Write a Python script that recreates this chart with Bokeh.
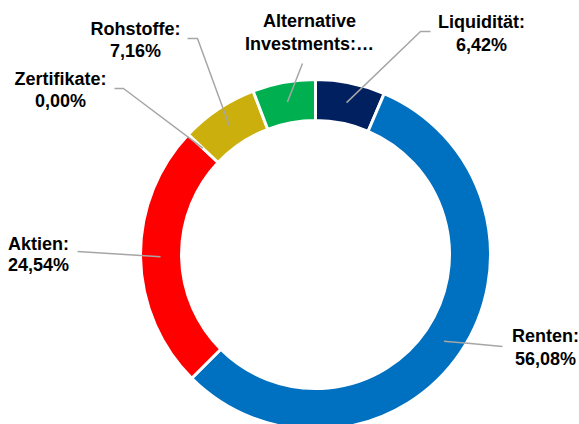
import math
from bokeh.plotting import figure
from bokeh.models import Range1d, ColumnDataSource
from bokeh.core.properties import value
from bokeh.embed import file_html
from bokeh.resources import INLINE

# ---- data ----
categories = ["Liquidität", "Renten", "Aktien", "Zertifikate", "Rohstoffe", "Alternative Investments"]
shares = [6.42, 56.08, 24.54, 0.00, 7.16, 5.80]
name_lines = ["Liquidität:", "Renten:", "Aktien:", "Zertifikate:", "Rohstoffe:", "Alternative"]
value_lines = ["6,42%", "56,08%", "24,54%", "0,00%", "7,16%", "Investments:…"]

# ---- styles / layout (screen pixels) ----
colors = ["#002060", "#0070C0", "#FF0000", "#7F7F7F", "#CBB00D", "#00B050"]
W, H = 579, 424
cx_s, cy_s = 315, 254
r_out, r_in, r_lead = 175, 134, 155
label_x = [481, 545, 38, 60, 135, 309]
label_y = [21, 335, 243, 78, 28, 20]
line_gap = [23, 23, 21, 22, 22, 23]
elbow1 = [(420, 31), (470, 343), (77, 251), (123, 88), (197, 38), (302, 63)]
elbow2 = [(430, 31), (502, 346), (77, 251), (114, 88), (187, 38), (302, 63)]


def X(sx):
    return sx


def Y(sy):
    return H - sy


total = sum(shares)
starts, ends, mids = [], [], []
acc = 0.0
for v in shares:
    a0 = math.pi / 2 - 2 * math.pi * acc / total
    acc += v
    a1 = math.pi / 2 - 2 * math.pi * acc / total
    starts.append(a0)
    ends.append(a1)
    mids.append((a0 + a1) / 2)

p = figure(width=W, height=H, x_range=Range1d(0, W), y_range=Range1d(0, H),
           output_backend="svg", toolbar_location=None, min_border=0)
p.axis.visible = False
p.grid.visible = False
p.outline_line_color = None
p.background_fill_color = "white"
p.border_fill_color = "white"

idx = [i for i, v in enumerate(shares) if v > 0]
wsrc = ColumnDataSource(dict(
    x=[X(cx_s)] * len(idx), y=[Y(cy_s)] * len(idx),
    start=[starts[i] for i in idx], end=[ends[i] for i in idx],
    color=[colors[i] for i in idx]))
p.annular_wedge(x="x", y="y", inner_radius=r_in, outer_radius=r_out,
                start_angle="start", end_angle="end", direction="clock",
                fill_color="color", line_color="white", line_width=3, source=wsrc)

xs, ys = [], []
for i in range(len(shares)):
    px = cx_s + r_lead * math.cos(mids[i])
    py = cy_s - r_lead * math.sin(mids[i])
    xs.append([X(px), X(elbow1[i][0]), X(elbow2[i][0])])
    ys.append([Y(py), Y(elbow1[i][1]), Y(elbow2[i][1])])
p.multi_line(xs=xs, ys=ys, line_color="#A6A6A6", line_width=1.5)

tsrc = ColumnDataSource(dict(
    x=[X(v) for v in label_x],
    y1=[Y(v) for v in label_y],
    y2=[Y(v + g) for v, g in zip(label_y, line_gap)],
    t1=name_lines, t2=value_lines))
for ycol, tcol in (("y1", "t1"), ("y2", "t2")):
    p.text(x="x", y=ycol, text=tcol, source=tsrc, text_align="center",
           text_baseline="middle", text_font=value("Liberation Sans"),
           text_font_style="bold", text_font_size="18px", text_color="#000000")

open("out.html", "w").write(file_html(p, INLINE))
